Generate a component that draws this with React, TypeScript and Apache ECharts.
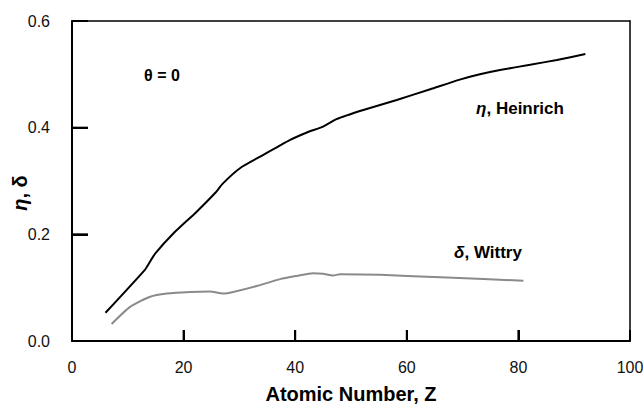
import React, { useEffect, useRef } from "react";
import * as echarts from "echarts";

const heinrichZ = [6, 13.1, 14, 14.9, 18.2, 22.3, 25.6, 27.1, 30.1, 34.3, 39.1, 42.1, 45, 47.4, 52.2, 58.2, 64.2, 69.5, 73.1, 76.7, 82.1, 86.9, 92];
const heinrichEta = [0.053, 0.134, 0.149, 0.164, 0.202, 0.242, 0.277, 0.296, 0.324, 0.349, 0.377, 0.391, 0.402, 0.416, 0.433, 0.452, 0.472, 0.49, 0.5, 0.508, 0.518, 0.527, 0.538];

const wittryZ = [7.1, 10.4, 14, 17, 21.1, 24.7, 27.1, 28.9, 33.1, 37.3, 40.3, 43.2, 45, 46.8, 48, 55.2, 67.2, 80.9];
const wittryDelta = [0.032, 0.064, 0.083, 0.089, 0.092, 0.093, 0.089, 0.092, 0.103, 0.116, 0.122, 0.127, 0.126, 0.123, 0.125, 0.124, 0.119, 0.113];

const xTickValues = [20, 40, 60, 80];
const yTickValues = [0.2, 0.4];

const FONT = "'Liberation Sans', Arial, sans-serif";

export default function App() {
  const ref = useRef<HTMLDivElement>(null);
  useEffect(() => {
    document.body.style.margin = "0";
    const chart = echarts.init(ref.current!, null, { renderer: "svg" });
    const borderAxis = {
      type: "value",
      axisLine: { show: true, onZero: false, lineStyle: { color: "#000", width: 1.5 } },
      axisTick: { show: false },
      axisLabel: { show: false },
      splitLine: { show: false },
    };
    const texts = [
      {
        id: "yname",
        type: "text",
        x: 20,
        y: 193,
        rotation: Math.PI / 2,
        style: {
          text: "{i|η}{b|, δ}",
          align: "center",
          verticalAlign: "middle",
          rich: {
            i: { fontSize: 20, fontWeight: "bold", fontStyle: "italic", fontFamily: FONT, fill: "#000" },
            b: { fontSize: 20, fontWeight: "bold", fontFamily: FONT, fill: "#000" },
          },
        },
      },
      {
        id: "theta",
        type: "text",
        x: 162,
        y: 75,
        style: {
          text: "θ = 0",
          align: "center",
          verticalAlign: "middle",
          fontSize: 16,
          fontWeight: "bold",
          fontFamily: FONT,
          fill: "#000",
        },
      },
      {
        id: "heinrich",
        type: "text",
        x: 520,
        y: 108,
        style: {
          text: "{i|η}{b|, Heinrich}",
          align: "center",
          verticalAlign: "middle",
          rich: {
            i: { fontSize: 17, fontWeight: "bold", fontStyle: "italic", fontFamily: FONT, fill: "#000" },
            b: { fontSize: 17, fontWeight: "bold", fontFamily: FONT, fill: "#000" },
          },
        },
      },
      {
        id: "wittry",
        type: "text",
        x: 488,
        y: 252,
        style: {
          text: "{i|δ}{b|, Wittry}",
          align: "center",
          verticalAlign: "middle",
          rich: {
            i: { fontSize: 17, fontWeight: "bold", fontStyle: "italic", fontFamily: FONT, fill: "#000" },
            b: { fontSize: 17, fontWeight: "bold", fontFamily: FONT, fill: "#000" },
          },
        },
      },
    ];
    chart.setOption({
      animation: false,
      backgroundColor: "#ffffff",
      grid: {
        left: 72,
        right: 13,
        top: 21,
        bottom: 64,
        outerBoundsMode: "none",
        containLabel: false,
        show: false,
      },
      xAxis: [
        {
          type: "value",
          min: 0,
          max: 100,
          interval: 20,
          position: "bottom",
          axisLine: { show: true, onZero: false, lineStyle: { color: "#000", width: 2 } },
          axisTick: { show: true, inside: true, length: 11, lineStyle: { color: "#000", width: 2 } },
          axisLabel: { color: "#111", fontSize: 16, fontFamily: FONT, margin: 18 },
          splitLine: { show: false },
          name: "Atomic Number, Z",
          nameLocation: "middle",
          nameGap: 43,
          nameTextStyle: { color: "#000", fontSize: 20, fontWeight: "bold", fontFamily: FONT },
        },
        { ...borderAxis, min: 0, max: 100, position: "top" },
      ],
      yAxis: [
        {
          type: "value",
          min: 0,
          max: 0.6,
          interval: 0.2,
          position: "left",
          axisLine: { show: true, onZero: false, lineStyle: { color: "#000", width: 2 } },
          axisTick: { show: true, inside: true, length: 16, lineStyle: { color: "#000", width: 2 } },
          axisLabel: {
            color: "#111",
            fontSize: 16,
            fontFamily: FONT,
            margin: 22,
            formatter: (v: number) => v.toFixed(1),
          },
          splitLine: { show: false },
        },
        { ...borderAxis, min: 0, max: 0.6, position: "right" },
      ],
      graphic: texts,
      series: [
        {
          type: "line",
          name: "η, Heinrich",
          xAxisIndex: 0,
          yAxisIndex: 0,
          data: heinrichZ.map((z, i) => [z, heinrichEta[i]]),
          showSymbol: false,
          smooth: 0.2,
          lineStyle: { color: "#000", width: 2 },
        },
        {
          type: "line",
          name: "δ, Wittry",
          xAxisIndex: 0,
          yAxisIndex: 0,
          data: wittryZ.map((z, i) => [z, wittryDelta[i]]),
          showSymbol: false,
          smooth: 0.2,
          lineStyle: { color: "#8a8a8a", width: 2 },
        },
      ],
    });
    const tickRects: any[] = [];
    xTickValues.forEach((v, i) => {
      const p = chart.convertToPixel({ gridIndex: 0 }, [v, 0]) as number[];
      tickRects.push({
        id: "xt" + i,
        type: "rect",
        z: 20,
        shape: { x: p[0] - 1, y: p[1] - 11, width: 2, height: 11 },
        style: { fill: "#000" },
      });
    });
    yTickValues.forEach((v, i) => {
      const p = chart.convertToPixel({ gridIndex: 0 }, [0, v]) as number[];
      tickRects.push({
        id: "yt" + i,
        type: "rect",
        z: 20,
        shape: { x: p[0], y: p[1] - 1, width: 16, height: 2 },
        style: { fill: "#000" },
      });
    });
    chart.setOption({ graphic: [...texts, ...tickRects] });
    return () => chart.dispose();
  }, []);
  return <div ref={ref} style={{ position: "absolute", left: 0, top: 0, width: 643, height: 405 }} />;
}
